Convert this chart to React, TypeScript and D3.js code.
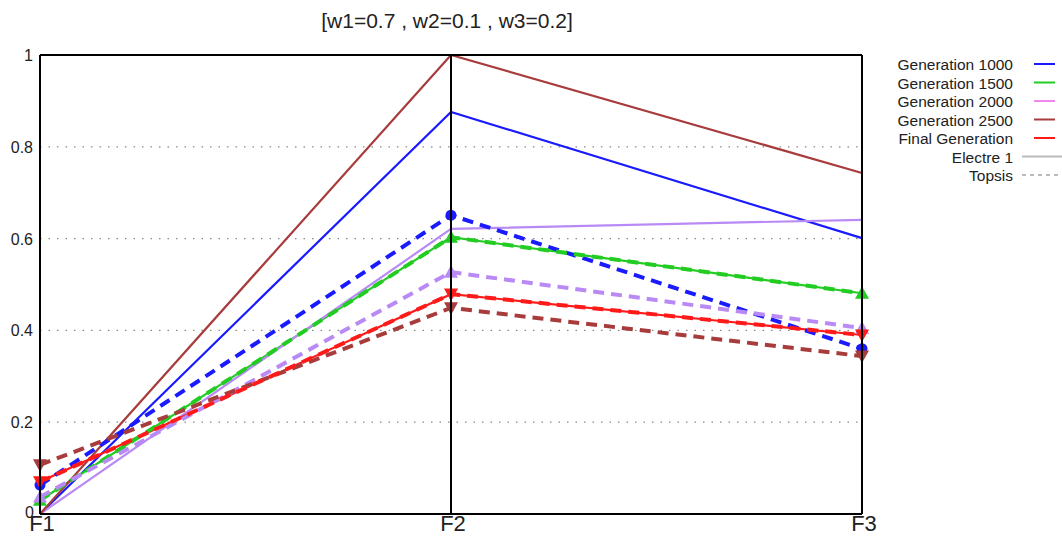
import React from 'react';
import * as d3 from 'd3';

const criteria = ['F1', 'F2', 'F3'];
const generations = ['Generation 1000', 'Generation 1500', 'Generation 2000', 'Generation 2500', 'Final Generation'];
const colors = ['#1a1aff', '#22cc22', '#b98af5', '#a83c3c', '#ff1a1a'];
const legendColors = ['#1a1aff', '#22cc22', '#ee88ee', '#a83c3c', '#ff1a1a'];
const markers = ['circle', 'up', 'up', 'down', 'down'];

// Electre 1 (solid) values per generation at F1, F2, F3
const electre = [
  [0, 0.876, 0.601],
  [0.03, 0.603, 0.481],
  [0, 0.621, 0.641],
  [0, 1.0, 0.743],
  [0.07, 0.479, 0.39],
];
// Topsis (dashed) values
const topsis = [
  [0.063, 0.651, 0.36],
  [0.03, 0.603, 0.481],
  [0.037, 0.527, 0.405],
  [0.107, 0.449, 0.344],
  [0.07, 0.479, 0.39],
];
const yTicks = [0, 0.2, 0.4, 0.6, 0.8, 1];
const yTickLabels = ['0', '0.2', '0.4', '0.6', '0.8', '1'];

const W = 1062, H = 536;
const m = { left: 40, right: 200, top: 55, bottom: 22 };

export default function App() {
  const x = d3.scalePoint().domain(criteria).range([m.left, W - m.right]);
  const y = d3.scaleLinear().domain([0, 1]).range([H - m.bottom, m.top]);
  const line = d3.line<number>().x((_, i) => x(criteria[i])!).y(d => y(d));
  const font = 'Liberation Sans, Arial, sans-serif';

  const marker = (type: string, cx: number, cy: number, c: string, k: string) => {
    if (type === 'circle') return <circle key={k} cx={cx} cy={cy} r={5.5} fill={c} />;
    const s = 7;
    const pts = type === 'up'
      ? `${cx - s},${cy + s * 0.8} ${cx + s},${cy + s * 0.8} ${cx},${cy - s}`
      : `${cx - s},${cy - s * 0.8} ${cx + s},${cy - s * 0.8} ${cx},${cy + s}`;
    return <polygon key={k} points={pts} fill={c} />;
  };

  const legendRows = [...generations, 'Electre 1', 'Topsis'];

  return (
    <svg width={W} height={H} style={{ position: 'absolute', left: 0, top: 0 }} fontFamily={font}>
      <rect width={W} height={H} fill="#fff" />
      <text x={447} y={28} textAnchor="middle" fontSize={21} fill="#222">[w1=0.7 , w2=0.1 , w3=0.2]</text>
      {yTicks.filter(t => t > 0 && t < 1).map(t => (
        <line key={t} x1={m.left} x2={W - m.right} y1={y(t)} y2={y(t)} stroke="#888" strokeWidth={1.3} strokeDasharray="1.5,7" />
      ))}
      {yTicks.map((t, i) => (
        <text key={t} x={t === 0 ? 34 : 33} y={t === 0 ? y(t) + 4 : y(t) + 6} textAnchor="end" fontSize={16} fill="#222">{yTickLabels[i]}</text>
      ))}
      {criteria.map(c => (
        <text key={c} x={x(c)! + 2} y={531} textAnchor="middle" fontSize={22} fill="#222">{c}</text>
      ))}
      {electre.map((vals, i) => (
        <path key={'e' + i} d={line(vals)!} fill="none" stroke={colors[i]} strokeWidth={2.2} />
      ))}
      {topsis.map((vals, i) => (
        <path key={'t' + i} d={line(vals)!} fill="none" stroke={colors[i]} strokeWidth={4} strokeDasharray="11,7" />
      ))}
      {topsis.map((vals, i) => vals.map((v, j) => marker(markers[i], x(criteria[j])!, y(v), colors[i], `m${i}-${j}`)))}
      <line x1={m.left} x2={W - m.right} y1={m.top} y2={m.top} stroke="#000" strokeWidth={2} />
      <line x1={m.left} x2={W - m.right} y1={y(0)} y2={y(0)} stroke="#000" strokeWidth={2} />
      {criteria.map(c => (
        <line key={c} x1={x(c)} x2={x(c)} y1={m.top} y2={y(0)} stroke="#000" strokeWidth={2} />
      ))}
      {legendRows.map((name, i) => {
        const ly = 64 + i * 18.5;
        const isGen = i < generations.length;
        return (
          <g key={name}>
            <text x={1013} y={ly + 6} textAnchor="end" fontSize={15.5} fill="#222">{name}</text>
            {isGen ? (
              <line x1={1034} x2={1055} y1={ly} y2={ly} stroke={legendColors[i]} strokeWidth={2} />
            ) : (
              <line x1={1022} x2={1062} y1={ly} y2={ly} stroke="#bbb" strokeWidth={2} strokeDasharray={name === 'Topsis' ? '4,4' : undefined} />
            )}
          </g>
        );
      })}
    </svg>
  );
}
